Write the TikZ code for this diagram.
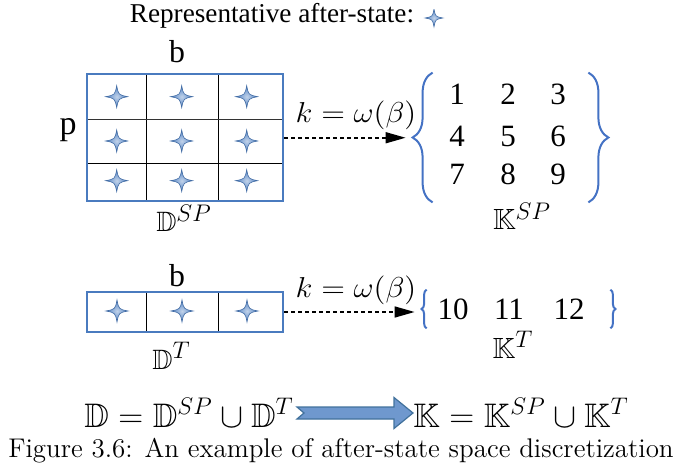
\documentclass[tikz,border=0pt]{standalone}
\usepackage{amsmath,amssymb}
\usepackage{graphicx}
\usepackage{fontspec}
\newfontfamily\timesfont{Liberation Serif}
\usetikzlibrary{arrows.meta,positioning,calc,fit,decorations.pathreplacing}
\definecolor{cellblue}{HTML}{4A7BBF}
\definecolor{starblue}{HTML}{4F80C2}
\definecolor{braceblue}{HTML}{4472C4}
\definecolor{arrowfill}{HTML}{6F98CE}
\definecolor{arrowline}{HTML}{41719C}
\DeclareMathSizes{14}{14}{11.5}{9}
\DeclareMathSizes{15}{15}{11.5}{8}
\DeclareMathSizes{14.6}{14.6}{12}{9}
\DeclareMathSizes{17}{17}{12.5}{10}
\newcommand{\hs}[2]{\scalebox{#1}[1]{#2}}
\tikzset{
  cellgrid/.style={draw=cellblue, line width=1pt, inner sep=0pt},
  cellline/.style={draw=black, line width=0.5pt},
  afterstate/.pic={\shadedraw[inner color=starblue!35!white, outer color=starblue, draw=starblue!85!black, line width=0.3pt]
    (0,-11) .. controls (1.8,-1.8) .. (11,0) .. controls (1.8,1.8) .. (0,11)
    .. controls (-1.8,1.8) .. (-11,0) .. controls (-1.8,-1.8) .. cycle;},
  plaintext/.style={anchor=base, inner sep=0pt, font=\timesfont\fontsize{13.6}{16}\selectfont},
  axislabel/.style={anchor=base, inner sep=0pt, font=\timesfont\fontsize{15.9}{18}\selectfont},
  keynum/.style={anchor=base, inner sep=0pt, font=\timesfont\fontsize{15.5}{18}\selectfont},
  keynumT/.style={keynum, font=\timesfont\fontsize{15.5}{18}\selectfont},
  setlabel/.style={anchor=base, inner sep=0pt, font=\fontsize{14}{16}\selectfont},
  keylabel/.style={anchor=base, inner sep=0pt, font=\fontsize{14.6}{17}\selectfont},
  maplabel/.style={anchor=base, inner sep=0pt, font=\fontsize{15}{17}\selectfont},
  eqlabel/.style={anchor=base, inner sep=0pt, font=\fontsize{17}{20}\selectfont},
  keyset/.style={inner sep=0pt},
  keybrace/.style={draw=braceblue, line width=1pt, decorate},
  maparrow/.style={line width=0.8pt, dash pattern=on 2pt off 1.5pt, -{Triangle[length=10pt, width=5.5pt]}, shorten >=3.5pt},
  bigarrow/.style={fill=arrowfill, draw=arrowline, line width=0.6pt}
}
\begin{document}
\begin{tikzpicture}[x=0.5pt,y=-0.5pt]
  \useasboundingbox (0,0) rectangle (680,470);

  \node[plaintext] (legend) at (272,23) {Representative after-state:};
  \pic[scale=0.8] at (434,18) {afterstate};

  % state-price grid
  \foreach \cx in {146,218} \draw[cellline] (\cx,74) -- (\cx,201.5);
  \draw[cellline, draw=black!80, line width=0.7pt] (87,119.5) -- (283,119.5);
  \draw[cellline] (87,164) -- (283,164);
  \node[cellgrid, fit={(87,74) (283,201.5)}] (gridSP) {};
  \foreach \sx in {116.7,181.7,246.7}
    \foreach \sy in {96.7,141,180.7}
      \pic at (\sx,\sy) {afterstate};
  \node[axislabel] (bSP) at (177,63) {b};
  \node[axislabel, font=\timesfont\fontsize{17}{19}\selectfont] (pSP) at (68,135) {p};
  \node[setlabel] (dSP) at (184,232) {$\mathbb{D}^{SP}$};

  \node[keyset, fit={(413,73) (608,202)}] (keySP) {};
  \draw[keybrace, decoration={brace, amplitude=10pt}]
    ($(keySP.south west)+(20,0)$) -- ($(keySP.north west)+(20,0)$);
  \draw[keybrace, decoration={brace, amplitude=10pt}]
    ($(keySP.north east)+(-20,0)$) -- ($(keySP.south east)+(-20,0)$);
  \foreach \nx/\ny/\n in {457/105/1, 508/105/2, 558/105/3,
                          457/146.7/4, 508/146.7/5, 558/146.7/6,
                          457/185/7, 508/185/8, 558/185/9}
    \node[keynum] (n\n) at (\nx,\ny) {\n};
  \node[keylabel] (kSP) at (522,230) {$\mathbb{K}^{SP}$};

  \draw[maparrow] (gridSP.east) -- (gridSP.east -| keySP.west);
  \node[maplabel] (labSP) at (356,123) {\hs{1.08}{$k=\omega(\beta)$}};

  % terminal grid
  \foreach \cx in {146,218} \draw[cellline] (\cx,292) -- (\cx,332);
  \node[cellgrid, fit={(87,292) (283,332)}] (gridT) {};
  \foreach \sx in {117,182,247}
    \pic at (\sx,311) {afterstate};
  \node[axislabel] (bT) at (177,286) {b};
  \node[setlabel] (dT) at (171.5,369) {$\mathbb{D}^{T}$};

  \node[keyset, fit={(422,290) (615,328)}] (keyT) {};
  \draw[keybrace, decoration={brace, amplitude=2.5pt}]
    ($(keyT.south west)+(5,0)$) -- ($(keyT.north west)+(5,0)$);
  \draw[keybrace, decoration={brace, amplitude=2.5pt}]
    ($(keyT.north east)+(-5,0)$) -- ($(keyT.south east)+(-5,0)$);
  \foreach \nx/\n in {453/10, 509/11, 569/12}
    \node[keynumT] (n\n) at (\nx,320) {\n};
  \node[keylabel] (kT) at (513,358) {$\mathbb{K}^{T}$};

  \draw[maparrow] (gridT.east) -- (gridT.east -| keyT.west);
  \node[maplabel] (labT) at (356,298) {\hs{1.08}{$k=\omega(\beta)$}};

  % union
  \node[eqlabel] (deq) at (189,427) {$\mathbb{D}=\mathbb{D}^{SP}\cup\mathbb{D}^{T}$};
  \node[eqlabel] (keq) at (521,427) {$\mathbb{K}=\mathbb{K}^{SP}\cup\mathbb{K}^{T}$};
  \coordinate (bigtail) at (297,413);
  \coordinate (bigtip) at (413,413);
  \filldraw[bigarrow] ($(bigtail)+(0,-6)$) -- ($(bigtip)+(-19,-6)$) -- ($(bigtip)+(-19,-15.5)$)
    -- (bigtip) -- ($(bigtip)+(-19,15.5)$) -- ($(bigtip)+(-19,6)$) -- ($(bigtail)+(0,6)$)
    -- ($(bigtail)+(7,0)$) -- cycle;

  \node[anchor=base, inner sep=0pt, font=\fontsize{13.5}{16}\selectfont] (caption) at (341,457)
    {Figure 3.6: An example of after-state space discretization};
\end{tikzpicture}
\end{document}
